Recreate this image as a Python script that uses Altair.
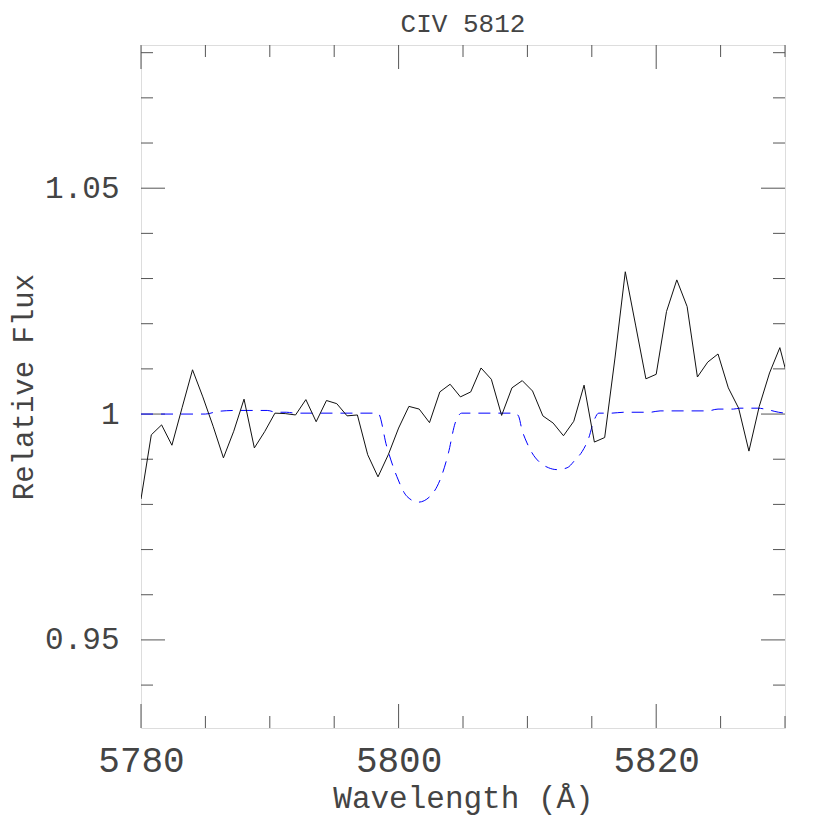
import altair as alt
import pandas as pd

# Observed spectrum (black solid)
wavelength = [5780.0, 5780.8, 5781.6, 5782.4, 5783.2, 5784.0, 5784.8, 5785.6, 5786.4, 5787.2,
              5788.0, 5788.8, 5789.6, 5790.4, 5791.2, 5792.0, 5792.8, 5793.6, 5794.4, 5795.2,
              5796.0, 5796.8, 5797.6, 5798.4, 5799.2, 5800.0, 5800.8, 5801.6, 5802.4, 5803.2,
              5804.0, 5804.8, 5805.6, 5806.4, 5807.2, 5808.0, 5808.8, 5809.6, 5810.4, 5811.2,
              5812.0, 5812.8, 5813.6, 5814.4, 5815.2, 5816.0, 5816.8, 5817.6, 5818.4, 5819.2,
              5820.0, 5820.8, 5821.6, 5822.4, 5823.2, 5824.0, 5824.8, 5825.6, 5826.4, 5827.2,
              5828.0, 5828.8, 5829.6, 5830.4]
flux = [0.9812, 0.9954, 0.9976, 0.9931, 1.0015, 1.0098, 1.0038, 0.9973, 0.9903, 0.9962,
        1.0033, 0.9925, 0.9961, 1.0002, 1.0001, 0.9998, 1.0032, 0.9983, 1.0030, 1.0023,
        0.9996, 0.9998, 0.9910, 0.9861, 0.9910, 0.9969, 1.0017, 1.0011, 0.9981, 1.0049,
        1.0066, 1.0038, 1.0049, 1.0102, 1.0077, 0.9997, 1.0058, 1.0074, 1.0051, 0.9996,
        0.9980, 0.9952, 0.9984, 1.0064, 0.9938, 0.9948, 1.0124, 1.0315, 1.0197, 1.0078,
        1.0088, 1.0227, 1.0297, 1.0238, 1.0082, 1.0115, 1.0133, 1.0058, 1.0013, 0.9918,
        1.0017, 1.0091, 1.0147, 1.0059]

# Model spectrum (blue dashed)
model_wavelength = [5780.0, 5785.0, 5786.0, 5787.4, 5789.8, 5790.5, 5791.3, 5792.0, 5798.4,
                    5799.08, 5799.86, 5800.64, 5801.54, 5802.58, 5803.23, 5803.87, 5804.39,
                    5804.91, 5809.06, 5809.32, 5809.58, 5809.97, 5810.36, 5811.0, 5811.65,
                    5812.3, 5813.08, 5813.72, 5814.25, 5814.76, 5815.15, 5815.54, 5816.5,
                    5817.5, 5819.5, 5820.3, 5824.0, 5824.8, 5826.0, 5826.5, 5827.9, 5828.6,
                    5829.5, 5830.0]
model_flux = [1.0000, 1.0000, 1.0006, 1.0008, 1.0008, 1.0004, 1.0004, 1.0002, 1.0002,
              0.9928, 0.9862, 0.9818, 0.9805, 0.9822, 0.9855, 0.9914, 0.9980,
              1.0002, 1.0002, 0.9995, 0.9965, 0.9936, 0.9914, 0.9892, 0.9881,
              0.9877, 0.9881, 0.9899, 0.9917, 0.9947, 0.9984, 1.0002, 1.0002,
              1.0004, 1.0004, 1.0007, 1.0007, 1.0011, 1.0011, 1.0013, 1.0013, 1.0010,
              1.0004, 1.0002]

x_major = [5780, 5800, 5820]
x_minor = [5785, 5790, 5795, 5805, 5810, 5815, 5825, 5830]
y_major = [0.95, 1.0, 1.05]
y_minor = [0.94, 0.96, 0.97, 0.98, 0.99, 1.01, 1.02, 1.03, 1.04, 1.06, 1.07, 1.08]

X_DOMAIN = [5780, 5830]
Y_DOMAIN = [0.9305, 1.0817]
W, H = 644, 683
FONT = "Liberation Mono"
TXT = "#444444"
TICK = "#555555"

xs = alt.Scale(domain=X_DOMAIN, nice=False, zero=False)
ys = alt.Scale(domain=Y_DOMAIN, nice=False, zero=False)

obs = pd.DataFrame({"w": wavelength, "f": flux})
mod = pd.DataFrame({"w": model_wavelength, "f": model_flux})

axis_style = dict(labelFont=FONT, titleFont=FONT, labelColor=TXT, titleColor=TXT,
                  titleFontWeight="normal", labelFontWeight="normal", labelFlush=False,
                  ticks=False, tickSize=0, domain=False, grid=False)

obs_line = alt.Chart(obs).mark_line(color="#111111", strokeWidth=1, clip=True).encode(
    x=alt.X("w:Q", scale=xs,
            axis=alt.Axis(values=x_major, format="d", labelPadding=15,
                          title="Wavelength (Å)", titlePadding=5,
                          labelFontSize=36, titleFontSize=31, **axis_style)),
    y=alt.Y("f:Q", scale=ys,
            axis=alt.Axis(values=y_major, format="~g", labelPadding=22,
                          title="Relative Flux", titlePadding=6,
                          labelFontSize=31, titleFontSize=29, **axis_style)),
)

mod_line = alt.Chart(mod).mark_line(color="#0000ff", strokeWidth=1, strokeDash=[12, 8],
                                    interpolate="monotone", clip=True).encode(
    x=alt.X("w:Q", scale=xs),
    y=alt.Y("f:Q", scale=ys),
)

def xticks(vals, length):
    d = pd.DataFrame({"w": vals})
    bottom = alt.Chart(d).mark_rule(color=TICK, strokeWidth=1).encode(
        x=alt.X("w:Q", scale=xs), y=alt.value(H), y2=alt.value(H - length))
    top = alt.Chart(d).mark_rule(color=TICK, strokeWidth=1).encode(
        x=alt.X("w:Q", scale=xs), y=alt.value(0), y2=alt.value(length))
    return [bottom, top]

def yticks(vals, length):
    d = pd.DataFrame({"f": vals})
    left = alt.Chart(d).mark_rule(color=TICK, strokeWidth=1).encode(
        y=alt.Y("f:Q", scale=ys), x=alt.value(0), x2=alt.value(length))
    right = alt.Chart(d).mark_rule(color=TICK, strokeWidth=1).encode(
        y=alt.Y("f:Q", scale=ys), x=alt.value(W), x2=alt.value(W - length))
    return [left, right]

layers = (xticks(x_major, 24) + xticks(x_minor, 12) + yticks(y_major, 24) + yticks(y_minor, 12)
          + [mod_line, obs_line])

chart = alt.layer(*layers).properties(
    width=W, height=H,
    title=alt.TitleParams("CIV 5812", font=FONT, fontSize=26, fontWeight="normal",
                          color=TXT, offset=8),
    autosize=alt.AutoSizeParams(type="none"),
    padding={"left": 133, "top": 37, "right": 35, "bottom": 91},
).configure_view(
    stroke="#666666", strokeWidth=1.2
).configure(background="white")

chart.save("out.html", embed_options={"renderer": "svg", "actions": False})
